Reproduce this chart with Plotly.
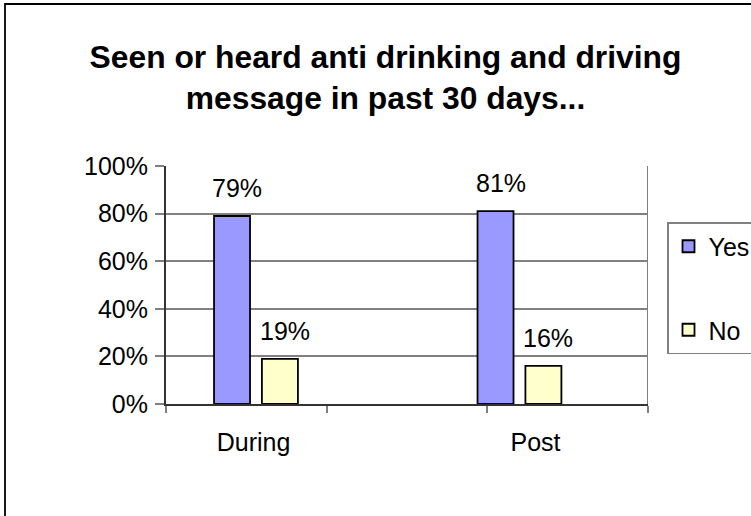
import plotly.graph_objects as go

# ---- data ----
categories = ["During", "Post"]
series_names = ["Yes", "No"]
yes_values = [79, 81]
no_values = [19, 16]
y_tick_values = [0, 20, 40, 60, 80, 100]
y_tick_labels = ["0%", "20%", "40%", "60%", "80%", "100%"]
title_text = "Seen or heard anti drinking and driving<br>message in past 30 days..."

# ---- layout constants (positions on a numeric x scale of 0..3) ----
group_centers = [0.56, 2.20]
label_centers = [0.545, 2.30]
bar_w = 0.224
half_gap = 0.149
colors = {"Yes": "#9999FF", "No": "#FFFFCC"}
FONT = "Liberation Sans, Arial, sans-serif"

FIG_W, FIG_H = 780, 516
L, T, R_PX, B_PX = 166, 166, 648, 404

fig = go.Figure()
series_vals = {"Yes": yes_values, "No": no_values}
offsets = {"Yes": -half_gap - bar_w / 2, "No": half_gap - bar_w / 2}

for name in series_names:
    fig.add_trace(go.Bar(
        name=name,
        x=group_centers,
        y=series_vals[name],
        width=bar_w,
        offset=offsets[name],
        marker=dict(color=colors[name], line=dict(color="black", width=1.8)),
        legendgroup=name,
        hoverinfo="skip",
    ))

annotations = []
for name in series_names:
    for xc, v in zip(group_centers, series_vals[name]):
        annotations.append(dict(
            x=xc + offsets[name] + bar_w / 2, y=v, xref="x", yref="y",
            text=f"{v}%", showarrow=False, yanchor="bottom", yshift=12, xshift=5,
            font=dict(family=FONT, size=25, color="black"),
        ))

pw = R_PX - L
ph = B_PX - T
GRID = "#808080"
AXIS = "#333333"

fig.update_layout(
    width=FIG_W, height=FIG_H,
    margin=dict(l=L, r=FIG_W - R_PX, t=T, b=FIG_H - B_PX, autoexpand=False),
    paper_bgcolor="white", plot_bgcolor="white",
    barmode="overlay",
    font=dict(family=FONT, size=25, color="black"),
    title=dict(text=title_text, x=385.5 / FIG_W, xref="container", xanchor="center",
               y=1 - 67.5 / FIG_H, yref="container", yanchor="middle",
               font=dict(family=FONT, size=31.8, color="black", weight="bold")),
    showlegend=True,
    legend=dict(x=(667 - L) / pw, y=(B_PX - 222) / ph, xanchor="left", yanchor="top",
                bordercolor=GRID, borderwidth=1.5, bgcolor="white",
                font=dict(family=FONT, size=25, color="black"),
                tracegroupgap=48, itemwidth=30, traceorder="grouped"),
    annotations=annotations,
    xaxis=dict(range=[0, 3], tickvals=label_centers, ticktext=categories, ticks="",
               showgrid=False, zeroline=False, showline=True, linecolor=AXIS, linewidth=2,
               ticklabelstandoff=15, fixedrange=True,
               minor=dict(tickvals=[0, 1, 2, 3], ticks="outside", ticklen=7,
                          tickcolor=GRID, tickwidth=2, showgrid=False),
               tickfont=dict(family=FONT, size=25, color="black")),
    yaxis=dict(range=[0, 100], tickvals=y_tick_values, ticktext=y_tick_labels,
               showgrid=True, gridcolor=GRID, gridwidth=2, zeroline=False,
               showline=True, linecolor=AXIS, linewidth=2,
               ticks="outside", ticklen=9, tickcolor=GRID, tickwidth=2,
               ticklabelstandoff=2, fixedrange=True,
               tickfont=dict(family=FONT, size=25, color="black")),
    shapes=[
        dict(type="line", xref="x", yref="y", x0=3, x1=3, y0=0, y1=100,
             line=dict(color=GRID, width=2)),
        dict(type="rect", xref="paper", yref="paper",
             x0=(5 - L) / pw, x1=(FIG_W + 20 - L) / pw,
             y0=(B_PX - 540) / ph, y1=(B_PX - 4) / ph,
             line=dict(color="black", width=1.8), fillcolor="rgba(0,0,0,0)", layer="below"),
    ],
)

fig.write_html(
    "out.html",
    config={"displayModeBar": False},
    post_script="document.body.style.margin='0';document.body.style.overflow='hidden';"
                "document.documentElement.style.overflow='hidden';",
)
